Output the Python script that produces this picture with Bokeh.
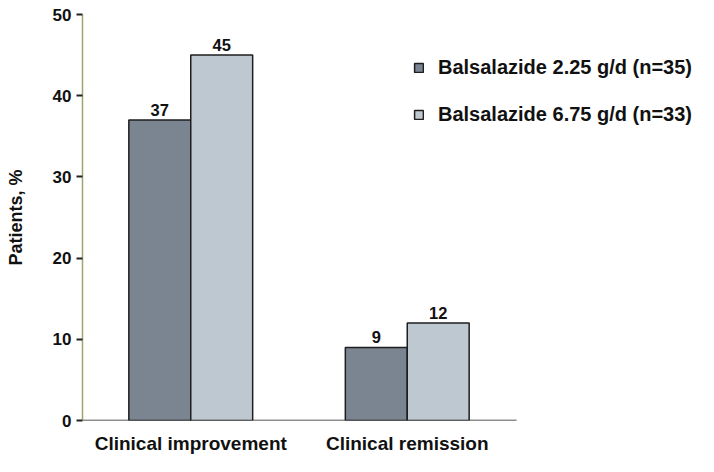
from bokeh.plotting import figure
from bokeh.models import ColumnDataSource, Legend, LegendItem, Range1d, FixedTicker
from bokeh.core.properties import value
from bokeh.embed import file_html
from bokeh.resources import INLINE

categories = ["Clinical improvement", "Clinical remission"]
low_dose = [37, 9]
high_dose = [45, 12]
series_names = ["Balsalazide 2.25 g/d (n=35)", "Balsalazide 6.75 g/d (n=33)"]
y_ticks = [0, 10, 20, 30, 40, 50]

FONT = "Liberation Sans"
bw = 0.286

centers = [i + 0.5 for i in range(len(categories))]
src = ColumnDataSource(dict(
    xl=[c - bw / 2 for c in centers],
    xh=[c + bw / 2 for c in centers],
    low=low_dose,
    high=high_dose,
    low_lbl=[str(v) for v in low_dose],
    high_lbl=[str(v) for v in high_dose],
))

W, H = 698, 456
left, top, bottom = 82, 14, 29
px_per_unit = 216.5
p = figure(
    width=W, height=H,
    x_range=Range1d(0, (W - left) / px_per_unit),
    y_range=Range1d(0, 50),
    output_backend="svg", toolbar_location=None,
    min_border_left=left, min_border_right=0, min_border_top=top, min_border_bottom=bottom,
)
p.outline_line_color = None
p.xgrid.grid_line_color = None
p.ygrid.grid_line_color = None

# baseline (x axis line) spanning the categories only
p.segment(x0=[0], x1=[len(categories) + 0.005], y0=[0], y1=[0], line_color="#1e1e1e", line_width=1.6)

r1 = p.vbar(x="xl", top="low", width=bw, source=src,
            fill_color="#7b8591", line_color="#1e1e1e", line_width=1.5)
r2 = p.vbar(x="xh", top="high", width=bw, source=src,
            fill_color="#bec8d0", line_color="#1e1e1e", line_width=1.5)

for xc, col, lbl in (("xl", "low", "low_lbl"), ("xh", "high", "high_lbl")):
    p.text(x=xc, y=col, text=lbl, source=src,
           text_align="center", text_baseline="bottom", y_offset=-4,
           text_font=value(FONT), text_font_style="bold", text_font_size="16.5px",
           text_color="#111111")

# y axis
p.yaxis.ticker = FixedTicker(ticks=y_ticks)
p.yaxis.axis_line_color = "#a3a36c"
p.yaxis.axis_line_width = 1.5
p.yaxis.major_tick_line_color = "#222222"
p.yaxis.major_tick_line_width = 2
p.yaxis.major_tick_out = 6
p.yaxis.major_tick_in = 0
p.yaxis.minor_tick_line_color = None
p.yaxis.major_label_text_font = FONT
p.yaxis.major_label_text_font_style = "bold"
p.yaxis.major_label_text_font_size = "17px"
p.yaxis.major_label_text_color = "#111111"
p.yaxis.major_label_standoff = 5
p.yaxis.axis_label = "Patients, %"
p.yaxis.axis_label_text_font = FONT
p.yaxis.axis_label_text_font_style = "bold"
p.yaxis.axis_label_text_font_size = "18px"
p.yaxis.axis_label_text_color = "#111111"
p.yaxis.axis_label_standoff = 24

# x axis: category labels only
p.xaxis.ticker = FixedTicker(ticks=centers)
p.xaxis.major_label_overrides = {c: lab for c, lab in zip(centers, categories)}
p.xaxis.axis_line_color = None
p.xaxis.major_tick_line_color = None
p.xaxis.minor_tick_line_color = None
p.xaxis.major_label_text_font = FONT
p.xaxis.major_label_text_font_style = "bold"
p.xaxis.major_label_text_font_size = "19px"
p.xaxis.major_label_text_color = "#111111"
p.xaxis.major_label_standoff = 6

legend = Legend(
    items=[LegendItem(label=series_names[0], renderers=[r1]),
           LegendItem(label=series_names[1], renderers=[r2])],
    location=(331, 294),
    border_line_color=None, background_fill_alpha=0,
    padding=0, margin=0,
    glyph_width=11, glyph_height=11, label_height=24, label_standoff=14, spacing=23,
    label_text_font=FONT, label_text_font_style="bold", label_text_font_size="20px",
    label_text_color="#111111",
)
p.add_layout(legend, "center")

open("out.html", "w").write(file_html(p, INLINE))
